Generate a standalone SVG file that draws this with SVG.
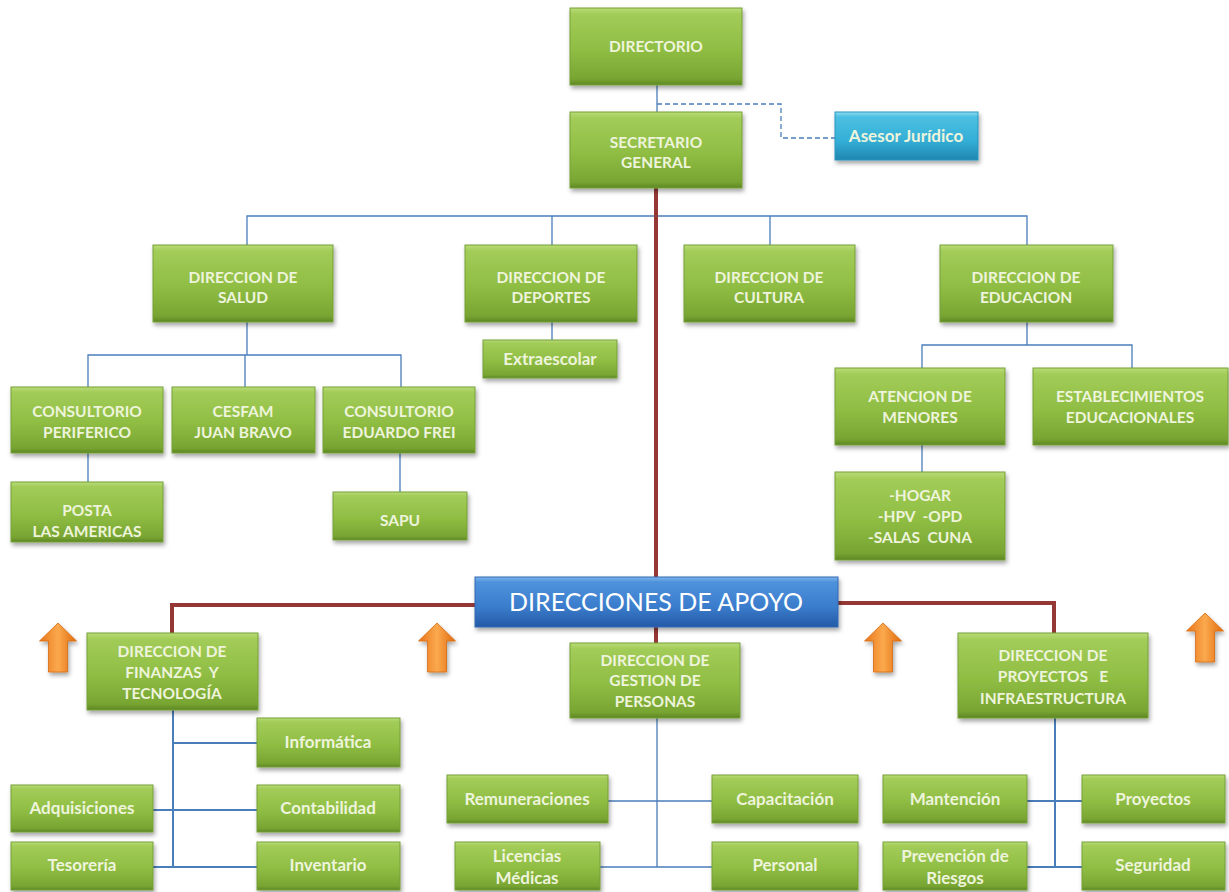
<svg xmlns="http://www.w3.org/2000/svg" width="1229" height="892" viewBox="0 0 1229 892">
<defs>
<linearGradient id="gGreen" x1="0" y1="0" x2="0" y2="1">
<stop offset="0" stop-color="#b9dc78"/>
<stop offset="0.08" stop-color="#a2cc58"/>
<stop offset="0.55" stop-color="#8fbd43"/>
<stop offset="0.92" stop-color="#78a532"/>
<stop offset="1" stop-color="#5e8624"/>
</linearGradient>
<linearGradient id="gBlue" x1="0" y1="0" x2="0" y2="1">
<stop offset="0" stop-color="#7fb6ec"/>
<stop offset="0.1" stop-color="#4f92dc"/>
<stop offset="0.6" stop-color="#3a7ccc"/>
<stop offset="1" stop-color="#245aa6"/>
</linearGradient>
<linearGradient id="gCyan" x1="0" y1="0" x2="0" y2="1">
<stop offset="0" stop-color="#8fdcf0"/>
<stop offset="0.1" stop-color="#4cc0e2"/>
<stop offset="0.6" stop-color="#34aed6"/>
<stop offset="1" stop-color="#1f86b0"/>
</linearGradient>
<linearGradient id="gOrange" x1="0" y1="0" x2="1" y2="0">
<stop offset="0" stop-color="#e8751a"/>
<stop offset="0.5" stop-color="#fba94e"/>
<stop offset="1" stop-color="#e06a0c"/>
</linearGradient>
<filter id="sh" x="-10%" y="-10%" width="125%" height="135%">
<feDropShadow dx="1.5" dy="3" stdDeviation="2" flood-color="#000" flood-opacity="0.35"/>
</filter>
<path id="arrow" d="M0,0 L18.5,18 L9.5,18 L9.5,49 L-9.5,49 L-9.5,18 L-18.5,18 Z"/>
</defs>
<style>
.g{fill:url(#gGreen);stroke:#76a03a;stroke-width:1;filter:url(#sh)}
.b{fill:url(#gBlue);stroke:#3169b2;stroke-width:1;filter:url(#sh)}
.c{fill:url(#gCyan);stroke:#2a95bf;stroke-width:1;filter:url(#sh)}
.t{font-family:Lato,"Liberation Sans",sans-serif;font-weight:bold;font-size:15.5px;fill:#eef4dc;text-anchor:middle}
.s{font-family:Lato,"Liberation Sans",sans-serif;font-weight:bold;font-size:17px;fill:#eef4dc;text-anchor:middle}
.big{font-family:Lato,"Liberation Sans",sans-serif;font-size:25px;fill:#ffffff;text-anchor:middle}
.ln{fill:none;stroke:#4a7ebb;stroke-width:1.3}
.lb{fill:none;stroke:#4a7ebb;stroke-width:2}
.red{fill:none;stroke:#953735;stroke-width:4}
.dash{fill:none;stroke:#4a7ebb;stroke-width:1.3;stroke-dasharray:5,3}
.ar{fill:url(#gOrange);stroke:#d86a10;stroke-width:0.8;filter:url(#sh)}
</style>
<rect width="1229" height="892" fill="#ffffff"/>

<g id="connectors">
<path class="ln" d="M657,85 V112"/>
<path class="dash" d="M657,104 H781 V138 H835"/>
<path class="ln" d="M247,245 V216 H1027 V245 M552,216 V245 M770,216 V245 M656,188 V216"/>
<path class="ln" d="M552,322 V340"/>
<path class="ln" d="M247,322 V355 M88,387 V355 H401 V387 M245,355 V387"/>
<path class="ln" d="M88,453 V482 M400,453 V492"/>
<path class="ln" d="M1027,322 V345 M922,368 V345 H1132 V368 M922,445 V472"/>
<path class="red" d="M656,188 V577"/>
<path class="red" d="M475,605 H172 V633"/>
<path class="red" d="M838,603 H1054 V633"/>
<path class="red" d="M656,627 V643"/>
<path class="lb" d="M173,709 V867 M173,743 H257 M153,810 H257 M153,867 H257"/>
<path class="ln" d="M657,718 V867 M608,801 H712 M600,867 H712"/>
<path class="lb" d="M1055,718 V867 M1027,801 H1082 M1027,867 H1082"/>
</g>

<g id="directorio"><rect class="g" x="570" y="8" width="172" height="77"/><text class="t" x="656" y="52">DIRECTORIO</text></g>
<g id="secretario"><rect class="g" x="570" y="112" width="172" height="76"/><text class="t" x="656" y="148">SECRETARIO</text><text class="t" x="656" y="168">GENERAL</text></g>
<g id="asesor"><rect class="c" x="835" y="112" width="143" height="48"/><text class="s" x="906" y="142" fill="#ffffff">Asesor Jurídico</text></g>

<g id="salud"><rect class="g" x="153" y="245" width="180" height="77"/><text class="t" x="243" y="283">DIRECCION DE</text><text class="t" x="243" y="303">SALUD</text></g>
<g id="deportes"><rect class="g" x="465" y="245" width="172" height="77"/><text class="t" x="551" y="283">DIRECCION DE</text><text class="t" x="551" y="303">DEPORTES</text></g>
<g id="cultura"><rect class="g" x="684" y="245" width="171" height="77"/><text class="t" x="769" y="283">DIRECCION DE</text><text class="t" x="769" y="303">CULTURA</text></g>
<g id="educacion"><rect class="g" x="940" y="245" width="173" height="77"/><text class="t" x="1026" y="283">DIRECCION DE</text><text class="t" x="1026" y="303">EDUCACION</text></g>
<g id="extraescolar"><rect class="g" x="483" y="340" width="134" height="38"/><text class="s" x="550" y="365">Extraescolar</text></g>

<g id="periferico"><rect class="g" x="11" y="387" width="152" height="66"/><text class="t" x="87" y="417">CONSULTORIO</text><text class="t" x="87" y="438">PERIFERICO</text></g>
<g id="cesfam"><rect class="g" x="172" y="387" width="143" height="66"/><text class="t" x="243" y="417">CESFAM</text><text class="t" x="243" y="438">JUAN BRAVO</text></g>
<g id="frei"><rect class="g" x="323" y="387" width="152" height="66"/><text class="t" x="399" y="417">CONSULTORIO</text><text class="t" x="399" y="438">EDUARDO FREI</text></g>
<g id="posta"><rect class="g" x="11" y="482" width="152" height="60"/><text class="t" x="87" y="516">POSTA</text><text class="t" x="87" y="537">LAS AMERICAS</text></g>
<g id="sapu"><rect class="g" x="333" y="492" width="134" height="48"/><text class="t" x="400" y="526">SAPU</text></g>

<g id="atencion"><rect class="g" x="835" y="368" width="170" height="77"/><text class="t" x="920" y="402">ATENCION DE</text><text class="t" x="920" y="423">MENORES</text></g>
<g id="establecimientos"><rect class="g" x="1033" y="368" width="195" height="77"/><text class="t" x="1130" y="402">ESTABLECIMIENTOS</text><text class="t" x="1130" y="423">EDUCACIONALES</text></g>
<g id="hogar"><rect class="g" x="835" y="472" width="170" height="88"/><text class="t" x="920" y="501">-HOGAR</text><text class="t" x="920" y="522" xml:space="preserve">-HPV  -OPD</text><text class="t" x="920" y="543" xml:space="preserve">-SALAS  CUNA</text></g>

<g id="apoyo"><rect class="b" x="475" y="577" width="363" height="50"/><text class="big" x="656" y="611">DIRECCIONES DE APOYO</text></g>

<g id="arrows">
<use href="#arrow" class="ar" x="58" y="623"/>
<use href="#arrow" class="ar" x="437" y="623"/>
<use href="#arrow" class="ar" x="883" y="623"/>
<use href="#arrow" class="ar" x="1205" y="613"/>
</g>

<g id="finanzas"><rect class="g" x="87" y="633" width="171" height="77"/><text class="t" x="172" y="657">DIRECCION DE</text><text class="t" x="172" y="678" xml:space="preserve">FINANZAS  Y</text><text class="t" x="172" y="699">TECNOLOGÍA</text></g>
<g id="gestion"><rect class="g" x="570" y="643" width="170" height="75"/><text class="t" x="655" y="666">DIRECCION DE</text><text class="t" x="655" y="686">GESTION DE</text><text class="t" x="655" y="707">PERSONAS</text></g>
<g id="proyectos-dir"><rect class="g" x="958" y="633" width="190" height="85"/><text class="t" x="1053" y="661">DIRECCION DE</text><text class="t" x="1053" y="682" xml:space="preserve">PROYECTOS   E</text><text class="t" x="1053" y="704">INFRAESTRUCTURA</text></g>

<g id="informatica"><rect class="g" x="257" y="718" width="143" height="49"/><text class="s" x="328" y="748">Informática</text></g>
<g id="adquisiciones"><rect class="g" x="11" y="785" width="142" height="47"/><text class="s" x="82" y="814">Adquisiciones</text></g>
<g id="contabilidad"><rect class="g" x="257" y="785" width="143" height="47"/><text class="s" x="328" y="814">Contabilidad</text></g>
<g id="tesoreria"><rect class="g" x="11" y="842" width="142" height="48"/><text class="s" x="82" y="871">Tesorería</text></g>
<g id="inventario"><rect class="g" x="257" y="842" width="143" height="48"/><text class="s" x="328" y="871">Inventario</text></g>

<g id="remuneraciones"><rect class="g" x="447" y="775" width="161" height="48"/><text class="s" x="527" y="805">Remuneraciones</text></g>
<g id="capacitacion"><rect class="g" x="712" y="775" width="146" height="48"/><text class="s" x="785" y="805">Capacitación</text></g>
<g id="licencias"><rect class="g" x="455" y="842" width="145" height="48"/><text class="s" x="527" y="862">Licencias</text><text class="s" x="527" y="884">Médicas</text></g>
<g id="personal"><rect class="g" x="712" y="842" width="146" height="48"/><text class="s" x="785" y="871">Personal</text></g>

<g id="mantencion"><rect class="g" x="883" y="775" width="144" height="48"/><text class="s" x="955" y="805">Mantención</text></g>
<g id="proyectos"><rect class="g" x="1082" y="775" width="143" height="48"/><text class="s" x="1153" y="805">Proyectos</text></g>
<g id="prevencion"><rect class="g" x="883" y="842" width="144" height="48"/><text class="s" x="955" y="862">Prevención de</text><text class="s" x="955" y="884">Riesgos</text></g>
<g id="seguridad"><rect class="g" x="1082" y="842" width="143" height="48"/><text class="s" x="1153" y="871">Seguridad</text></g>
</svg>
